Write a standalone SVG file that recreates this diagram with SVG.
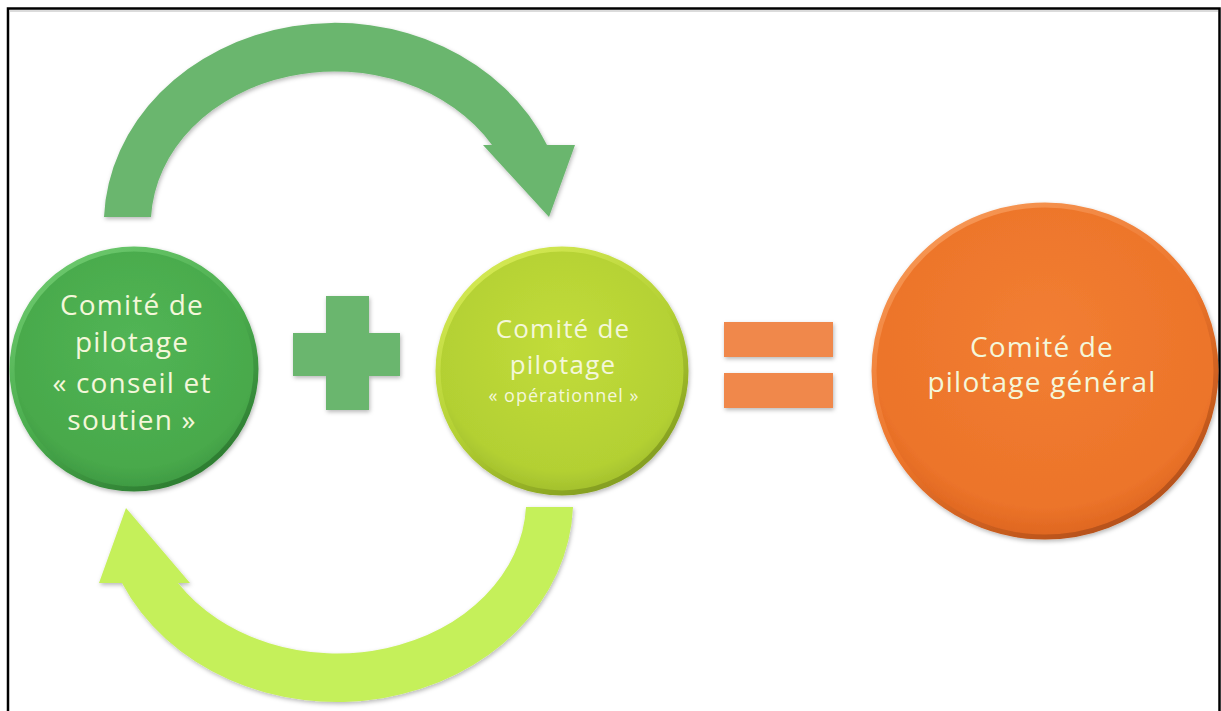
<svg xmlns="http://www.w3.org/2000/svg" width="1221" height="711" viewBox="0 0 1221 711">
  <style>
    .lbl { font-family: "Open Sans", "Liberation Sans", sans-serif; fill: #f4f7da; text-anchor: middle; letter-spacing: 1.2px; }
    .big { font-size: 28px; }
    .mid { font-size: 26px; }
    .small { font-size: 18px; letter-spacing: 1px; }
  </style>
  <defs>
    <filter id="shadow" x="-10%" y="-10%" width="120%" height="125%">
      <feDropShadow dx="1" dy="2" stdDeviation="2" flood-color="#000" flood-opacity="0.28"/>
    </filter>
    <radialGradient id="gGreen" cx="50%" cy="40%" r="60%">
      <stop offset="0" stop-color="#52b555"/>
      <stop offset="0.85" stop-color="#48a94b"/>
      <stop offset="1" stop-color="#3f9a42"/>
    </radialGradient>
    <linearGradient id="rGreen" x1="0" y1="0" x2="0.6" y2="1">
      <stop offset="0" stop-color="#74cf74"/>
      <stop offset="0.6" stop-color="#4aac4d"/>
      <stop offset="1" stop-color="#2f7f33"/>
    </linearGradient>
    <radialGradient id="gLime" cx="50%" cy="40%" r="60%">
      <stop offset="0" stop-color="#c2dc3a"/>
      <stop offset="0.85" stop-color="#b3d033"/>
      <stop offset="1" stop-color="#a2bf2c"/>
    </radialGradient>
    <linearGradient id="rLime" x1="0" y1="0" x2="0.6" y2="1">
      <stop offset="0" stop-color="#dcef5c"/>
      <stop offset="0.6" stop-color="#b3d033"/>
      <stop offset="1" stop-color="#86a020"/>
    </linearGradient>
    <radialGradient id="gOrange" cx="50%" cy="40%" r="60%">
      <stop offset="0" stop-color="#f27e32"/>
      <stop offset="0.85" stop-color="#ec742a"/>
      <stop offset="1" stop-color="#de6620"/>
    </radialGradient>
    <linearGradient id="rOrange" x1="0" y1="0" x2="0.6" y2="1">
      <stop offset="0" stop-color="#f9a060"/>
      <stop offset="0.6" stop-color="#ec742a"/>
      <stop offset="1" stop-color="#b8521a"/>
    </linearGradient>
  </defs>

  <rect x="0" y="0" width="1221" height="711" fill="#ffffff"/>

  <!-- frame -->
  <path d="M8,711 V8.5 H1219.5 V711" fill="none" stroke="#000" stroke-width="2.5"/>
  <line x1="9.5" y1="11" x2="1218" y2="11" stroke="#cfcfcf" stroke-width="1.5"/>

  <!-- connectors -->
  <g id="connectors" filter="url(#shadow)">
    <path id="arrow-top" d="M104,217 A231,202 0 0 1 547,145 L575,145 L549,217 L483,145 L492,145 A184,153 0 0 0 151,217 Z" fill="#6ab66e"/>
    <path id="arrow-bottom" d="M573,507 A236,202 0 0 1 122,583 L99,583 L126,508 L190,583 L178,583 A189,153 0 0 0 526,507 Z" fill="#c5f05a"/>
  </g>

  <!-- node: conseil et soutien -->
  <g id="node-conseil">
    <ellipse cx="134" cy="369" rx="122" ry="120" fill="url(#gGreen)" stroke="url(#rGreen)" stroke-width="5" filter="url(#shadow)"/>
    <text class="lbl big" x="132" y="315">Comité de</text>
    <text class="lbl big" x="132" y="352">pilotage</text>
    <text class="lbl big" x="132" y="393">« conseil et</text>
    <text class="lbl big" x="132" y="430">soutien »</text>
  </g>

  <!-- plus -->
  <g id="plus" filter="url(#shadow)" fill="#6ab66e">
    <rect x="326" y="296" width="43" height="114"/>
    <rect x="293" y="333" width="107" height="43"/>
  </g>

  <!-- node: operationnel -->
  <g id="node-operationnel">
    <ellipse cx="562" cy="371" rx="124" ry="122" fill="url(#gLime)" stroke="url(#rLime)" stroke-width="5" filter="url(#shadow)"/>
    <text class="lbl mid" x="563" y="338">Comité de</text>
    <text class="lbl mid" x="563" y="374">pilotage</text>
    <text class="lbl small" x="564" y="402">« opérationnel »</text>
  </g>

  <!-- equals -->
  <g id="equals" filter="url(#shadow)" fill="#f0884c">
    <rect x="724" y="322" width="109" height="35"/>
    <rect x="724" y="373" width="109" height="35"/>
  </g>

  <!-- node: general -->
  <g id="node-general">
    <ellipse cx="1045" cy="371" rx="171" ry="166" fill="url(#gOrange)" stroke="url(#rOrange)" stroke-width="5" filter="url(#shadow)"/>
    <text class="lbl big" x="1042" y="357">Comité de</text>
    <text class="lbl big" x="1042" y="392">pilotage général</text>
  </g>
</svg>
